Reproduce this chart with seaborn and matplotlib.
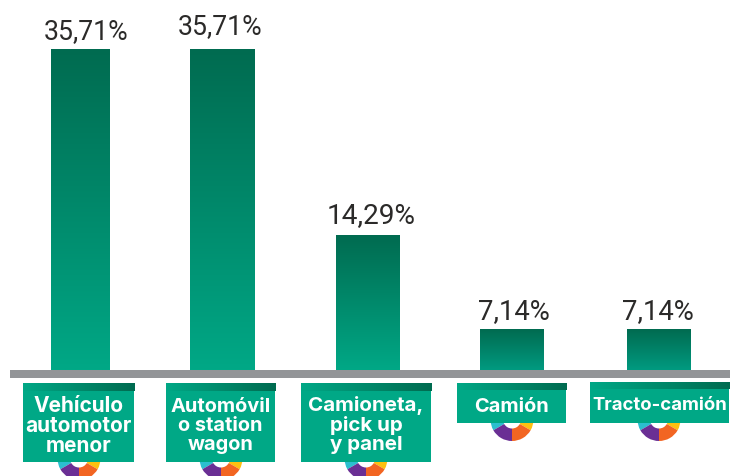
import numpy as np
import pandas as pd
import seaborn as sns
import matplotlib.pyplot as plt
from matplotlib.colors import LinearSegmentedColormap
from matplotlib.patches import Rectangle, Wedge

# datos del grafico
categorias = ["Vehículo\nautomotor\nmenor", "Automóvil\no station\nwagon", "Camioneta,\npick up\ny panel", "Camión", "Tracto-camión"]
etiquetas = ["35,71%", "35,71%", "14,29%", "7,14%", "7,14%"]
# altura leida de las barras (el dibujo original no es proporcional a la etiqueta)
alturas = [35.71, 35.71, 15.0, 4.56, 4.56]

# layout en pixeles
W, H = 730, 476
base_y = 370
px_por_unidad = 321 / 35.71
barra_x = [51, 190, 336, 480, 627]
barra_w = [59, 65, 64, 64, 64]
barra_abajo = ["#00a886", "#00a886", "#00a886", "#009a80", "#009a80"]
label_xy = [(86, 32), (220, 27), (371, 216), (514, 312), (658, 312)]
label_fs = [19.2, 19.2, 20.2, 19.8, 19.8]
caja_x = [(23, 134), (166, 275), (301, 431), (457, 566), (590, 729)]
caja_y = [(383, 462), (383, 462), (383, 462), (383, 423), (382, 423)]
caja_fs = [15, 14.4, 14.8, 14.4, 13.4]
caja_ls = [0.98, 1.08, 1.05, 1.05, 1.05]
caja_dy = [0.5, 0.5, 1.5, 0.5, 0.5]
rueda_x = [79, 221, 366, 512, 659]
rueda_colores = ["#fdc010", "#00a886", "#e6007e", "#2bbfcf", "#6a2f94", "#f26522"]

sns.set_theme(style="white")
plt.rcParams["font.family"] = ["Inter", "DejaVu Sans"]

df = pd.DataFrame({"categoria": categorias, "altura": alturas})

fig = plt.figure(figsize=(W / 100, H / 100), dpi=100)
ax = fig.add_axes([0, 0, 1, 1])
sns.barplot(data=df, x="categoria", y="altura", color="#00a886", ax=ax)
ax.axis("off")

# degradado vertical en cada barra
for p, x, w, abajo in zip(ax.patches, barra_x, barra_w, barra_abajo):
    p.set_x(x)
    p.set_width(w)
    p.set_facecolor("none")
    p.set_edgecolor("none")
    cmap = LinearSegmentedColormap.from_list("g", ["#006b50", abajo])
    im = ax.imshow(np.linspace(0, 1, 256).reshape(-1, 1), cmap=cmap, aspect="auto",
                   extent=[x, x + w, 0, p.get_height()], zorder=2)
    im.set_clip_path(p)
ax.set_xlim(0, W)
ax.set_ylim(-(H - base_y) / px_por_unidad, base_y / px_por_unidad)

# capa en pixeles para cajas, ruedas y textos
top = fig.add_axes([0, 0, 1, 1], facecolor="none")
top.axis("off")

top.add_patch(Rectangle((10, H - 377.5), 720, 7.5, color="#939598", lw=0))

for i in range(5):
    x0, x1 = caja_x[i]
    y0, y1 = caja_y[i]
    cy = H - (y1 - 3.5)
    for j, c in enumerate(rueda_colores):
        top.add_patch(Wedge((rueda_x[i], cy), 21.5, j * 60 - 30, (j + 1) * 60 - 30, width=12.5, color=c, lw=0))
    top.add_patch(Rectangle((x0, H - y1), x1 - x0, y1 - y0, color="#00a886", lw=0))
    # tira superior con degradado
    alto = 8 if y1 - y0 > 50 else 7
    top.imshow(np.linspace(0, 1, 256).reshape(1, -1),
               cmap=LinearSegmentedColormap.from_list("t", ["#00a886", "#006b50"]),
               aspect="auto", extent=[x0, x1 + 1, H - y0 - alto, H - y0], zorder=3)
    top.text((x0 + x1) / 2, H - (y0 + 8 + (y1 - y0 - 8) / 2) + caja_dy[i], categorias[i], color="white",
             fontsize=caja_fs[i], fontweight="bold", ha="center", va="center", linespacing=caja_ls[i], zorder=4)
    top.text(label_xy[i][0], H - label_xy[i][1], etiquetas[i], color="#2b2a29",
             family=["Roboto", "DejaVu Sans"], fontsize=label_fs[i], ha="center", va="center", zorder=4)
top.set_xlim(0, W)
top.set_ylim(0, H)

fig.savefig("out.png", dpi=100)
